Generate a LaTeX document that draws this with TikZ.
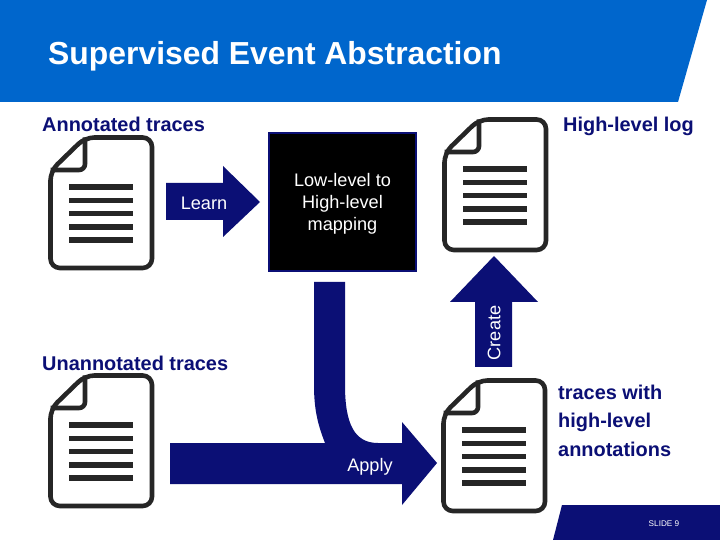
\documentclass[tikz,border=0pt]{standalone}
\usepackage{fontspec}
\setmainfont{Liberation Sans}
\definecolor{bandblue}{HTML}{0066CC}
\definecolor{navy}{HTML}{0B0F75}
\definecolor{docgray}{HTML}{262626}
\tikzset{
    blockarrow/.style={fill=navy,draw=none},
    heading/.style={text=navy,anchor=west,inner sep=0pt,font=\fontsize{17}{17}\bfseries\selectfont},
    blocklabel/.style={text=white,inner sep=0pt,font=\fontsize{15.5}{15.5}\selectfont},
    docline/.style={docgray,line width=4.3pt}
}
% document icon, #1 and #2 are the upper left corner
\newcommand{\docicon}[2]{
    \begin{scope}[shift={(#1,#2)}]
        \draw[docgray,line width=3.9pt,fill=white,rounded corners=8] (37,2.5)--(104,2.5)--(104,133)--(2.5,133)--(2.5,36)--cycle;
        \draw[docgray,line width=3.9pt,rounded corners=5,line join=round] (37,2.5)--(37,35)--(2.5,35);
        \foreach \y in {52,65.5,78.5,92,105} {
            \draw[docline] (21,\y)--(85,\y);
        }
    \end{scope}
}
\begin{document}
\begin{tikzpicture}[x=0.03cm,y=-0.03cm]
    \useasboundingbox (0,0) rectangle (720,540);
    \fill[white] (0,0) rectangle (720,540);
    \fill[bandblue] (0,0)--(707,0)--(678,102)--(0,102)--cycle;
    \fill[navy] (562,505)--(720,505)--(720,540)--(553,540)--cycle;
    \node[anchor=west,inner sep=0pt,text=white,font=\fontsize{27.2}{27.2}\bfseries\selectfont] (title) at (48,56) {Supervised Event Abstraction};
    \node[text=white,inner sep=0pt,font=\fontsize{7}{7}\selectfont] (slide) at (664,524) {SLIDE 9};
    % the four documents
    \docicon{48}{135}
    \docicon{442}{117}
    \docicon{48}{373}
    \docicon{441}{378}
    \node[heading] (annotated) at (42,124) {Annotated traces};
    \node[heading,anchor=east] (highlog) at (694,126) {High-level log};
    \node[heading] (unannotated) at (42,363) {Unannotated traces};
    \node[heading,anchor=west,align=left,font=\fontsize{17}{24.4}\bfseries\selectfont] (withann) at (558,420.5) {traces with\\high-level\\annotations};
    % block arrows
    \fill[blockarrow] (166,183)--(223,183)--(223,166)--(260,202)--(223,237)--(223,220)--(166,220)--cycle;
    \fill[blockarrow] (475,367)--(475,302)--(450,302)--(494,256)--(538,302)--(512,302)--(512,367)--cycle;
    \fill[blockarrow] (314,282)--(345,282)--(345,385) .. controls (345,425) and (355,443) .. (378,443)--(402,443)--(402,422)--(437,463)--(402,505)--(402,484)--(170,484)--(170,443)--(325,443) .. controls (318,425) and (314,410) .. (314,385)--cycle;
    \node[blocklabel] (learn) at (204,203) {Learn};
    \node[blocklabel,rotate=90] (create) at (494,333) {Create};
    \node[blocklabel] (apply) at (370,467) {Apply};
    % mapping box
    \node[draw=navy,line width=1.6pt,fill=black,minimum width=4.4cm,minimum height=4.15cm,inner sep=0pt] (mapping) at (342.5,202) {};
    \node[blocklabel,align=center,font=\fontsize{15.5}{18.7}\selectfont] (mappingtext) at (342.5,204) {Low-level to\\High-level\\mapping};
\end{tikzpicture}
\end{document}
